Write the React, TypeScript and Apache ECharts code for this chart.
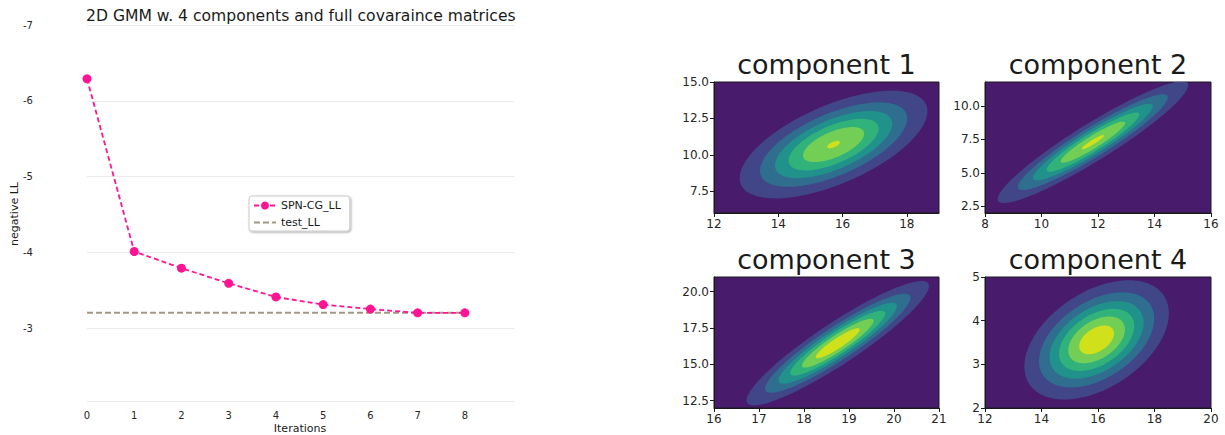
import React, { useEffect, useRef } from "react";
import * as echarts from "echarts";

// ---- Left chart data ----
const iterations = [0, 1, 2, 3, 4, 5, 6, 7, 8];
const spnCgLL = [-6.29, -4.01, -3.79, -3.59, -3.41, -3.31, -3.25, -3.2, -3.2];
const testLL = [-3.2, -3.2, -3.2, -3.2, -3.2, -3.2, -3.2, -3.2, -3.2];
const llTicks = [-7, -6, -5, -4, -3];
const iterTicks = [0, 1, 2, 3, 4, 5, 6, 7, 8];

// ---- Right: GMM components ----
const componentNames = ["component 1", "component 2", "component 3", "component 4"];
const compMeans = [
  [15.72, 10.7],
  [11.82, 7.3],
  [18.75, 16.45],
  [15.95, 3.56],
];
// covariance [sxx, sxy, syy]
const compCovs = [
  [2.37, 1.86, 3.8],
  [3.13, 3.95, 5.71],
  [1.08, 2.09, 4.8],
  [1.72, 0.41, 0.49],
];
// peak density divided by contour level step
const compPeakToStep = [6.05, 6.15, 6.7, 6.7];
const contourLevels = [1, 2, 3, 4, 5, 6];
const viridisLayers = ["#481b6d", "#404688", "#2f6e8e", "#21918c", "#31b27b", "#72ce55", "#d0e11c"];
const compXRange = [[12, 19], [8, 16], [16, 21], [12, 20]];
const compYRange = [[6, 15], [2, 11.8], [12, 21], [2, 5]];
const compXTicks = [[12, 14, 16, 18], [8, 10, 12, 14, 16], [16, 17, 18, 19, 20, 21], [12, 14, 16, 18, 20]];
const compYTicks = [[7.5, 10, 12.5, 15], [2.5, 5, 7.5, 10], [12.5, 15, 17.5, 20], [2, 3, 4, 5]];
const compYDecimals = [1, 1, 1, 0];

const FONT = "DejaVu Sans";

const rightGrids = [
  { left: 714, top: 82, width: 225, height: 131 },
  { left: 985, top: 82, width: 226, height: 131 },
  { left: 714, top: 277, width: 225, height: 131 },
  { left: 985, top: 277, width: 226, height: 131 },
];

export default function App() {
  const ref = useRef<HTMLDivElement>(null);
  useEffect(() => {
    document.body.style.margin = "0";
    const chart = echarts.init(ref.current!, null, { renderer: "svg" });

    const grids: any[] = [
      { left: 87, top: 25, width: 427, height: 376.5, containLabel: false },
    ];
    const xAxes: any[] = [
      {
        type: "value",
        gridIndex: 0,
        min: 0,
        max: 9.04,
        interval: 1,
        axisLine: { show: false },
        axisTick: { show: false },
        splitLine: { show: false },
        axisLabel: {
          margin: 9,
          fontSize: 10,
          color: "#262626",
          fontFamily: FONT,
          formatter: (v: number) => (iterTicks.indexOf(v) >= 0 ? String(v) : ""),
        },
      },
    ];
    const yAxes: any[] = [
      {
        type: "value",
        gridIndex: 0,
        min: -7,
        max: -2.03,
        interval: 1,
        inverse: true,
        axisLine: { show: false },
        axisTick: { show: false },
        splitLine: { show: true, lineStyle: { color: "#e6e6e6", width: 0.8 } },
        axisLabel: {
          margin: 54,
          fontSize: 10,
          color: "#262626",
          fontFamily: FONT,
          formatter: (v: number) => (llTicks.indexOf(v) >= 0 ? String(v) : ""),
        },
      },
    ];

    const series: any[] = [
      {
        name: "SPN-CG_LL",
        type: "line",
        xAxisIndex: 0,
        yAxisIndex: 0,
        data: iterations.map((it, i) => [it, spnCgLL[i]]),
        symbol: "circle",
        symbolSize: 9,
        color: "#ff1493",
        itemStyle: { color: "#ff1493" },
        lineStyle: { color: "#ff1493", width: 1.8, type: [5, 3] },
        z: 3,
      },
      {
        name: "test_LL",
        type: "line",
        xAxisIndex: 0,
        yAxisIndex: 0,
        data: iterations.map((it, i) => [it, testLL[i]]),
        symbol: "none",
        color: "#a39682",
        itemStyle: { color: "#a39682" },
        lineStyle: { color: "#a39682", width: 2, type: [6, 3] },
        z: 2,
      },
    ];

    const graphics: any[] = [
      {
        type: "text",
        x: 86,
        y: 16,
        style: {
          text: "2D GMM w. 4 components and full covaraince matrices",
          fontSize: 15.6,
          fontFamily: FONT,
          fill: "#1a1a1a",
          textAlign: "left",
          textVerticalAlign: "middle",
        },
      },
      {
        type: "text",
        x: 14,
        y: 214,
        rotation: Math.PI / 2,
        style: {
          text: "negative LL",
          fontSize: 11,
          fontFamily: FONT,
          fill: "#1a1a1a",
          textAlign: "center",
          textVerticalAlign: "middle",
        },
      },
      {
        type: "text",
        x: 300,
        y: 428,
        style: {
          text: "Iterations",
          fontSize: 11,
          fontFamily: FONT,
          fill: "#1a1a1a",
          textAlign: "center",
          textVerticalAlign: "middle",
        },
      },
    ];

    componentNames.forEach((name, c) => {
      const gi = c + 1;
      const g = rightGrids[c];
      grids.push({
        ...g,
        show: true,
        backgroundColor: viridisLayers[0],
        borderColor: "#1a1a1a",
        borderWidth: 1,
      });
      const yDec = compYDecimals[c];
      xAxes.push({
        type: "value",
        gridIndex: gi,
        min: compXRange[c][0],
        max: compXRange[c][1],
        axisLine: { show: true, lineStyle: { color: "#1a1a1a", width: 1 } },
        axisTick: {
          show: true,
          length: 4,
          customValues: compXTicks[c],
          lineStyle: { color: "#1a1a1a" },
        },
        splitLine: { show: false },
        axisLabel: {
          customValues: compXTicks[c],
          fontSize: 12,
          color: "#262626",
          fontFamily: FONT,
          margin: 5,
          formatter: (v: number) => String(v),
        },
      });
      yAxes.push({
        type: "value",
        gridIndex: gi,
        min: compYRange[c][0],
        max: compYRange[c][1],
        axisLine: { show: true, lineStyle: { color: "#1a1a1a", width: 1 } },
        axisTick: {
          show: true,
          length: 4,
          customValues: compYTicks[c],
          lineStyle: { color: "#1a1a1a" },
        },
        splitLine: { show: false },
        axisLabel: {
          customValues: compYTicks[c],
          fontSize: 12,
          color: "#262626",
          fontFamily: FONT,
          margin: 5,
          formatter: (v: number) => v.toFixed(yDec),
        },
      });

      const [mx, my] = compMeans[c];
      const [sxx, sxy, syy] = compCovs[c];
      const a = Math.sqrt(sxx);
      const b = sxy / a;
      const cc = Math.sqrt(Math.max(syy - b * b, 1e-6));
      const ratio = compPeakToStep[c];

      series.push({
        type: "custom",
        name: name,
        xAxisIndex: gi,
        yAxisIndex: gi,
        clip: true,
        silent: true,
        data: contourLevels.map((k) => [k]),
        renderItem: (params: any, api: any) => {
          const k = api.value(0);
          const r = Math.sqrt(2 * Math.log(ratio / k));
          const pts: number[][] = [];
          const N = 120;
          for (let i = 0; i < N; i++) {
            const t = (i / N) * Math.PI * 2;
            const ct = Math.cos(t);
            const st = Math.sin(t);
            const px = mx + r * a * ct;
            const py = my + r * (b * ct + cc * st);
            pts.push(api.coord([px, py]));
          }
          return {
            type: "polygon",
            shape: { points: pts },
            style: { fill: viridisLayers[k], stroke: null },
          };
        },
      });

      graphics.push({
        type: "text",
        x: g.left + g.width / 2,
        y: g.top - 18,
        style: {
          text: name,
          fontSize: 27,
          fontFamily: FONT,
          fill: "#1a1a1a",
          textAlign: "center",
          textVerticalAlign: "middle",
        },
      });
    });

    chart.setOption({
      animation: false,
      backgroundColor: "#ffffff",
      textStyle: { fontFamily: FONT },
      grid: grids,
      xAxis: xAxes,
      yAxis: yAxes,
      series,
      graphic: graphics,
      legend: {
        data: ["SPN-CG_LL", { name: "test_LL", itemStyle: { opacity: 0 } }],
        orient: "vertical",
        left: 249,
        top: 196,
        itemWidth: 22,
        itemHeight: 10,
        itemGap: 6,
        padding: [4, 9, 3, 4],
        backgroundColor: "#ffffff",
        borderColor: "#cccccc",
        borderWidth: 1,
        borderRadius: 3,
        shadowBlur: 2,
        shadowColor: "rgba(0,0,0,0.35)",
        shadowOffsetX: 1,
        shadowOffsetY: 1,
        textStyle: { fontSize: 11, color: "#1a1a1a", fontFamily: FONT },
      },
    });
    return () => chart.dispose();
  }, []);
  return <div ref={ref} style={{ width: 1225, height: 435 }} />;
}
